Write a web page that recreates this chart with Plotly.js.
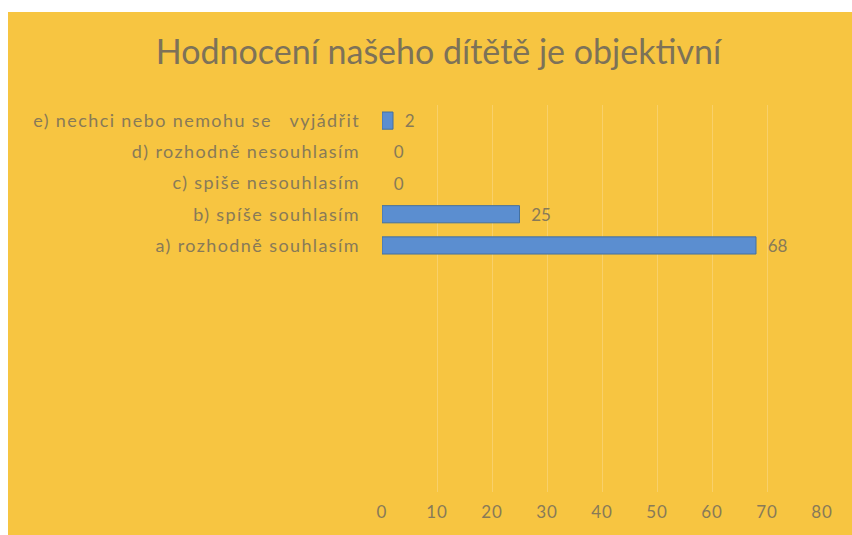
<!DOCTYPE html>
<html>
<head>
<meta charset="utf-8">
<script src="https://cdn.plot.ly/plotly-3.0.1.min.js"></script>
<style>
html,body{margin:0;padding:0;background:#ffffff;width:852px;height:535px;overflow:hidden;}
#chart{position:absolute;left:8px;top:12px;width:844px;height:523px;}
#chart .ytick text{letter-spacing:1.4px;}
#chart .xtick text{letter-spacing:1px;}
</style>
</head>
<body>
<div id="chart"></div>
<script>
const categories = ["a) rozhodně souhlasím", "b) spíše souhlasím", "c) spiše nesouhlasím", "d) rozhodně nesouhlasím", "e) nechci nebo nemohu se   vyjádřit"];
const values = [68, 25, 0, 0, 2];
const xTicks = [0, 10, 20, 30, 40, 50, 60, 70, 80];
const titleText = "Hodnocení našeho dítětě je objektivní";

const txtColor = "#887a58";
const fam = "Lato, 'Open Sans', sans-serif";
const data = [{
  type: "bar",
  orientation: "h",
  y: categories,
  x: values,
  marker: {color: "#5b8ed0", line: {color: "#44709f", width: values.map(v => v > 0 ? 1 : 0)}},
  text: values.map(v => "  " + v),
  textposition: "outside",
  constraintext: "none",
  cliponaxis: false,
  textfont: {family: fam, size: 17, color: txtColor},
  hoverinfo: "none"
}];

const layout = {
  width: 844, height: 523,
  paper_bgcolor: "#f7c541",
  plot_bgcolor: "#f7c541",
  margin: {l: 374, r: 30, t: 93, b: 43},
  showlegend: false,
  bargap: 0.45,
  title: {text: titleText, x: 0.51, xanchor: "center", y: 0.924, yanchor: "middle",
          font: {family: fam, size: 34, color: "#7d7258"}},
  xaxis: {
    range: [0, 80], tickvals: xTicks, ticktext: xTicks.map(String),
    showgrid: true, gridcolor: "#f8d06a", gridwidth: 1,
    zeroline: false, showline: false, ticks: "",
    ticklabelstandoff: 8,
    tickfont: {family: fam, size: 17, color: txtColor}
  },
  yaxis: {
    type: "category", categoryorder: "array", categoryarray: categories,
    range: [-7.9, 4.5],
    showgrid: false, zeroline: false, showline: false, ticks: "",
    ticklabelstandoff: 21,
    tickfont: {family: fam, size: 18, color: txtColor}
  },
  font: {family: fam}
};

Plotly.newPlot("chart", data, layout, {displayModeBar: false, staticPlot: true});
</script>
</body>
</html>
